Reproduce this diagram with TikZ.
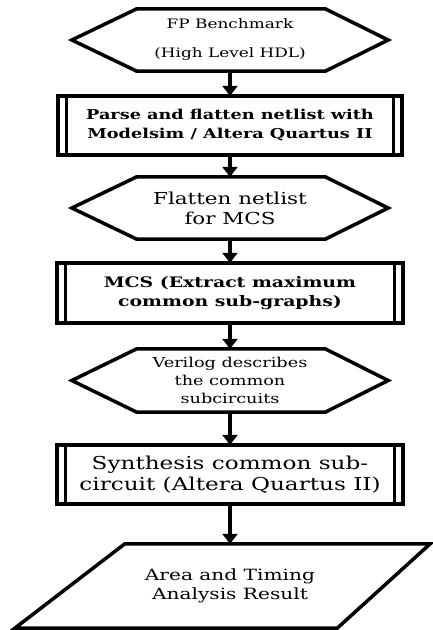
\documentclass[tikz,border=0pt]{standalone}
\usepackage{fontspec}
\setmainfont{DejaVu Serif}[FakeStretch=1.3]
\usetikzlibrary{arrows.meta,calc}
\begin{document}
\begin{tikzpicture}[x=1pt,y=-1pt,
  shp/.style={draw=none,inner sep=0pt,align=center,text=black},
  edge/.style={line width=3.5pt,line join=miter},
  bar/.style={line width=3pt},
  arr/.style={line width=4pt,-{Triangle[width=15pt,length=10pt]}}]
\useasboundingbox (0,0) rectangle (433,630);
% nodes
\node[shp,minimum width=316pt,minimum height=62pt,font=\fontsize{13}{29}\selectfont] (h1) at (230,40) {FP Benchmark\\(High Level HDL)};
\node[shp,minimum width=344pt,minimum height=59pt,font=\bfseries\fontsize{13.6}{19}\selectfont] (b1) at (230,125.5) {Parse and flatten netlist with\\Modelsim / Altera Quartus II};
\node[shp,minimum width=316pt,minimum height=62pt,font=\fontsize{16.5}{20}\selectfont] (h2) at (230,208) {Flatten netlist\\for MCS};
\node[shp,minimum width=346pt,minimum height=60pt,font=\bfseries\fontsize{14.5}{19}\selectfont] (b2) at (230,293) {MCS (Extract maximum\\common sub-graphs)};
\node[shp,minimum width=316pt,minimum height=63pt,font=\fontsize{13.6}{18}\selectfont] (h3) at (230,380.5) {Verilog describes\\the common\\subcircuits};
\node[shp,minimum width=346pt,minimum height=59pt,font=\fontsize{17.8}{21}\selectfont] (b3) at (230,474.5) {Synthesis common sub-\\circuit (Altera Quartus II)};
\node[shp,minimum width=300pt,minimum height=84pt,font=\fontsize{15.5}{19}\selectfont] (p) at (230,586) {Area and Timing\\Analysis Result};
% hexagons
\foreach \h in {h1,h2,h3}{
  \draw[edge] (\h.west) -- ([xshift=65pt]\h.north west) -- ([xshift=-63pt]\h.north east) -- (\h.east)
    -- ([xshift=-63pt]\h.south east) -- ([xshift=65pt]\h.south west) -- cycle;
}
% boxes with double side bars
\foreach \b in {b1,b2,b3}{
  \draw[edge] (\b.north west) rectangle (\b.south east);
  \draw[bar] ([xshift=9pt]\b.north west) -- ([xshift=9pt]\b.south west);
  \draw[bar] ([xshift=-9pt]\b.north east) -- ([xshift=-9pt]\b.south east);
}
% parallelogram
\draw[edge] ([xshift=45pt]p.north west) -- ([xshift=50pt]p.north east) -- ([xshift=-43pt]p.south east) -- ([xshift=-65pt]p.south west) -- cycle;
% arrows
\draw[arr] (h1.south) -- (b1.north);
\draw[arr] (b1.south) -- (h2.north);
\draw[arr] (h2.south) -- (b2.north);
\draw[arr] (b2.south) -- (h3.north);
\draw[arr] (h3.south) -- (b3.north);
\draw[arr] (b3.south) -- (b3.south |- p.north);
\end{tikzpicture}
\end{document}
